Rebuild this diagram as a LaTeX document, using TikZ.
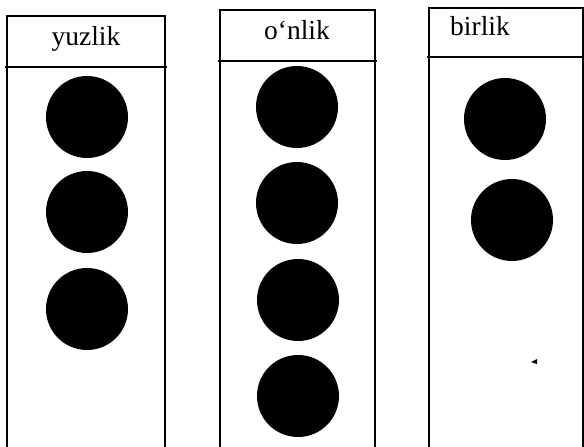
\documentclass[tikz,border=0pt]{standalone}
\usepackage{fontspec}
\setmainfont{Liberation Serif}
\usetikzlibrary{positioning}

\begin{document}
\begin{tikzpicture}[
    x=1pt, y=-1pt,
    every node/.style={font=\fontsize{27.5}{32}\selectfont},
    col/.style={line width=1.5pt, line join=miter},
    head/.style={anchor=base, inner sep=0pt},
    bead/.style={circle, fill=black, inner sep=0pt, minimum size=82pt},
]
\useasboundingbox (0,0) rectangle (584,447);
% column frames, open at the bottom
\draw[col] (7,447) -- (7,16) -- (165,16) -- (165,447);
\draw[col] (5,67) -- (167,67);
\draw[col] (220,447) -- (220,10) -- (375,10) -- (375,447);
\draw[col] (218,61) -- (377,61);
\draw[col] (429,447) -- (429,8) -- (583,8) -- (583,447);
\draw[col] (427,57) -- (583,57);
% headings
\node[head] (yuzlik) at (86,45.5) {yuzlik};
\node[head] (onlik) at (297,39.5) {o‘nlik};
\node[head] (birlik) at (480,35) {birlik};
% hundreds
\node[bead] (y1) at (87,117) {};
\node[bead] (y2) at (87,212) {};
\node[bead] (y3) at (87,309) {};
% tens
\node[bead] (o1) at (297,107) {};
\node[bead] (o2) at (297,203) {};
\node[bead] (o3) at (298,300) {};
\node[bead] (o4) at (298,396) {};
% ones
\node[bead] (b1) at (505,119) {};
\node[bead] (b2) at (512,220) {};
% stray mark
\fill (531,362) -- (537,359) -- (537,364) -- cycle;
\end{tikzpicture}
\end{document}
